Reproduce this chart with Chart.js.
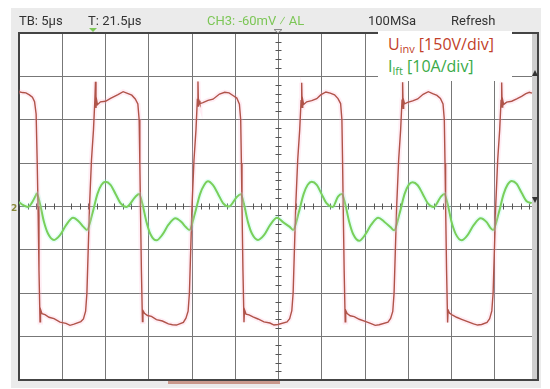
<!DOCTYPE html>
<html>
<head>
<meta charset="utf-8">
<script src="https://cdn.jsdelivr.net/npm/chart.js@4.4.1/dist/chart.umd.min.js"></script>
<style>
  body { margin: 0; background: #fff; }
  #wrap { position: relative; width: 550px; height: 389px; }
  .hdr { position: absolute; top: 13px; font: 13px Roboto, sans-serif; color: #333; white-space: nowrap; }
  #legend { position: absolute; left: 378px; top: 31px; width: 134px; height: 50px; background: #fff; font-family: "Open Sans", sans-serif; font-size: 16px; }
  #legend div { position: absolute; left: 10px; white-space: nowrap; }
  #legend sub { font-size: 11px; vertical-align: -3px; }
</style>
</head>
<body>
<div id="wrap">
  <canvas id="scope" width="550" height="389"></canvas>
  <div class="hdr" style="left:19px">TB: 5µs</div>
  <div class="hdr" style="left:88px">T: 21.5µs</div>
  <div class="hdr" style="left:207px;color:#7cc656">CH3: -60mV ⁄ AL</div>
  <div class="hdr" style="left:368px">100MSa</div>
  <div class="hdr" style="left:451px">Refresh</div>
  <div id="legend">
    <div style="top:2px;color:#c23f2a">U<sub>inv</sub> [150V/div]</div>
    <div style="top:24px;color:#3aaa48">I<sub>lft</sub> [10A/div]</div>
  </div>
</div>
<script>
// time axis: 5 us/div, 12 divisions
const timeTicks = [0, 5, 10, 15, 20, 25, 30, 35, 40, 45, 50, 55, 60];
// voltage axis 150 V/div, current axis 10 A/div, 8 divisions
const voltTicks = [-600, -450, -300, -150, 0, 150, 300, 450, 600];
const ampTicks = [-40, -30, -20, -10, 0, 10, 20, 30, 40];

// inverter voltage (red trace), us / V
const uTime = [
  0, 0.4, 0.8, 1.2, 1.55, 1.8, 1.98, 2.1, 2.2,
  2.31, 2.43, 2.49, 2.66, 3.01, 3.47, 4.05, 4.74, 5.43, 5.9, 6.36, 7.15, 7.45, 7.7, 7.85, 8.0, 8.15,
  8.38, 8.61, 8.77, 8.84, 8.9, 8.96, 9.07, 9.42, 10.0, 10.58, 11.44, 12.04, 12.54, 13.04, 13.44, 13.74, 13.89, 13.97, 14.04,
  14.15, 14.27, 14.33, 14.5, 14.85, 15.31, 15.89, 16.58, 17.27, 17.74, 18.2, 19.0, 19.3, 19.55, 19.7, 19.85, 20.0,
  20.23, 20.46, 20.62, 20.69, 20.75, 20.81, 20.92, 21.27, 21.85, 22.43, 23.18, 23.78, 24.28, 24.78, 25.18, 25.48, 25.63, 25.71, 25.78,
  25.89, 26.01, 26.07, 26.24, 26.59, 27.05, 27.63, 28.32, 29.01, 29.48, 29.94, 30.99, 31.29, 31.54, 31.69, 31.84, 31.99,
  32.22, 32.45, 32.61, 32.68, 32.74, 32.8, 32.91, 33.26, 33.84, 34.42, 34.88, 35.48, 35.98, 36.48, 36.88, 37.18, 37.33, 37.41, 37.48,
  37.59, 37.71, 37.77, 37.94, 38.29, 38.75, 39.33, 40.02, 40.71, 41.18, 41.64, 42.66, 42.96, 43.21, 43.36, 43.51, 43.66,
  43.89, 44.12, 44.28, 44.35, 44.41, 44.47, 44.58, 44.93, 45.51, 46.09, 46.72, 47.32, 47.82, 48.32, 48.72, 49.02, 49.17, 49.25, 49.32,
  49.43, 49.55, 49.61, 49.78, 50.13, 50.59, 51.17, 51.86, 52.55, 53.02, 53.48, 54.11, 54.41, 54.66, 54.81, 54.96, 55.11,
  55.34, 55.57, 55.73, 55.8, 55.86, 55.92, 56.03, 56.38, 56.96, 57.54, 58.1, 58.6, 59.0, 59.3
];
const uVolt = [
  397, 394, 393, 386, 378, 362, 320, 160, 0,
  -220, -399, -356, -371, -374, -383, -388, -400, -404, -411, -407, -398, -389, -362, -300, -150, 0,
  161, 265, 368, 431, 341, 370, 352, 362, 364, 374, 387, 397, 391, 385, 372, 355, 300, 150, 0,
  -220, -398, -360, -369, -377, -380, -391, -396, -406, -409, -410, -401, -386, -362, -300, -150, 0,
  161, 265, 370, 432, 345, 366, 356, 359, 367, 371, 389, 395, 393, 383, 375, 354, 300, 150, 0,
  -220, -400, -357, -372, -375, -382, -389, -399, -403, -410, -408, -399, -388, -360, -300, -150, 0,
  161, 265, 366, 428, 343, 369, 353, 362, 366, 373, 386, 396, 392, 386, 373, 356, 300, 150, 0,
  -220, -399, -359, -370, -378, -381, -390, -397, -405, -411, -409, -400, -387, -363, -300, -150, 0,
  161, 265, 368, 430, 340, 367, 355, 360, 365, 372, 388, 397, 390, 384, 374, 355, 300, 150, 0,
  -220, -401, -358, -369, -376, -383, -390, -398, -406, -410, -408, -401, -388, -361, -300, -150, 0,
  161, 265, 367, 429, 344, 368, 353, 361, 364, 372, 381, 390, 395, 392
];

// filter current (green trace), us / A
const iTime = [
  0, 0.5, 1.04, 1.5, 1.95, 2.05,
  2.43, 2.89, 3.36, 4.05, 4.74, 5.44, 6.25, 6.94, 7.46, 7.85,
  8.5, 9.07, 9.54, 10.0, 10.58, 11.16, 11.73, 12.43, 13.44, 13.89,
  14.27, 14.73, 15.2, 15.89, 16.58, 17.28, 18.09, 18.78, 19.31, 19.7,
  20.35, 20.92, 21.39, 21.85, 22.43, 23.01, 23.58, 24.28, 25.18, 25.63,
  26.01, 26.47, 26.94, 27.63, 28.32, 29.02, 29.83, 30.52, 31.3, 31.69,
  32.34, 32.91, 33.38, 33.84, 34.42, 35.0, 35.57, 36.27, 36.88, 37.33,
  37.71, 38.17, 38.64, 39.33, 40.02, 40.72, 41.53, 42.22, 42.97, 43.36,
  44.01, 44.58, 45.05, 45.51, 46.09, 46.67, 47.24, 47.94, 48.72, 49.17,
  49.55, 50.01, 50.48, 51.17, 51.86, 52.56, 53.37, 54.06, 54.42, 54.81,
  55.46, 56.03, 56.5, 56.96, 57.54, 58.12, 58.69, 59.27
];
const iAmp = [
  1.0, 0.3, -0.1, 0.9, 2.6, 3.0,
  0.6, -3.6, -6.3, -7.7, -6.6, -4.3, -2.6, -3.5, -4.7, -5.4,
  -1.5, 2.9, 5.0, 5.7, 5.0, 2.9, 0.8, -0.1, 2.2, 2.9,
  0.6, -3.5, -6.4, -7.8, -6.5, -4.2, -2.7, -3.6, -4.8, -5.4,
  -1.5, 2.8, 4.9, 5.8, 4.9, 2.9, 0.8, 0.0, 2.2, 2.8,
  0.5, -3.6, -6.3, -7.7, -6.6, -4.3, -2.6, -3.6, -4.7, -5.4,
  -1.4, 2.9, 5.0, 5.7, 5.0, 2.8, 0.7, -0.1, 2.3, 2.9,
  0.6, -3.5, -6.4, -7.9, -6.5, -4.2, -2.6, -3.5, -4.8, -5.5,
  -1.5, 2.9, 5.0, 5.6, 4.9, 2.9, 0.8, -0.1, 2.1, 2.9,
  0.6, -3.6, -6.3, -7.8, -6.6, -4.3, -2.7, -3.6, -4.7, -5.4,
  -1.5, 2.9, 5.1, 5.9, 5.2, 3.1, 1.2, 0.8
];

const uPoints = uTime.map((t, k) => ({ x: t, y: uVolt[k] }));
const iPoints = iTime.map((t, k) => ({ x: t, y: iAmp[k] }));

// scope furniture: gray panel, frame, center ticks, markers
const scopeFrame = {
  id: 'scopeFrame',
  beforeDraw(chart) {
    const c = chart.ctx, a = chart.chartArea;
    c.save();
    c.fillStyle = '#fff';
    c.fillRect(0, 0, chart.width, chart.height);
    c.fillStyle = '#ebebeb';
    c.fillRect(11, 8, 530, 380);
    c.fillStyle = '#fff';
    c.fillRect(a.left, a.top, a.right - a.left, a.bottom - a.top);
    c.restore();
  },
  beforeDatasetsDraw(chart) {
    const c = chart.ctx, a = chart.chartArea;
    const xs = chart.scales.x, ys = chart.scales.y;
    c.save();
    // scrollbar at right
    c.fillStyle = '#cfcfcf';
    c.fillRect(a.right - 6, a.top, 6, a.bottom - a.top);
    // minor ticks on center lines
    c.strokeStyle = '#555';
    c.lineWidth = 1;
    const cx = xs.getPixelForValue(30), cy = ys.getPixelForValue(0);
    c.beginPath();
    for (let t = 1; t < 60; t++) {
      if (t % 5 === 0) continue;
      const px = Math.round(xs.getPixelForValue(t)) + 0.5;
      c.moveTo(px, cy - 3); c.lineTo(px, cy + 3);
    }
    for (let v = -570; v < 600; v += 30) {
      if (v % 150 === 0) continue;
      const py = Math.round(ys.getPixelForValue(v)) + 0.5;
      c.moveTo(cx - 3, py); c.lineTo(cx + 3, py);
    }
    c.stroke();
    // frame
    c.strokeStyle = '#444';
    c.lineWidth = 2;
    c.strokeRect(a.left, a.top, a.right - a.left, a.bottom - a.top);
    // bottom position bar
    c.fillStyle = '#c9998c';
    c.fillRect(168, a.bottom + 1, 112, 3);
    // markers
    c.fillStyle = '#7cc656';
    c.beginPath(); c.moveTo(89, 28); c.lineTo(97, 28); c.lineTo(93, 32); c.fill();
    c.strokeStyle = '#888'; c.lineWidth = 1;
    c.beginPath(); c.moveTo(274, 29.5); c.lineTo(282, 29.5); c.lineTo(278, 33); c.closePath(); c.stroke();
    c.fillStyle = '#333';
    c.beginPath(); c.moveTo(532, 76); c.lineTo(538, 76); c.lineTo(535, 70); c.fill();
    c.beginPath(); c.moveTo(532, 197); c.lineTo(538, 197); c.lineTo(535, 203); c.fill();
    c.fillStyle = '#8a8a3a';
    c.font = 'bold 9px "DejaVu Sans"';
    c.fillText('2', 11, 211);
    c.restore();
  }
};

new Chart(document.getElementById('scope'), {
  type: 'line',
  data: {
    datasets: [
      { label: 'Uinv glow', data: uPoints, yAxisID: 'y', borderColor: 'rgba(255,175,205,0.22)', borderWidth: 5, pointRadius: 0, tension: 0 },
      { label: 'Ilft glow', data: iPoints, yAxisID: 'y1', borderColor: 'rgba(150,250,225,0.25)', borderWidth: 5, pointRadius: 0, cubicInterpolationMode: 'monotone' },
      { label: 'Uinv', data: uPoints, yAxisID: 'y', borderColor: '#9a3a24', borderWidth: 1.4, pointRadius: 0, tension: 0 },
      { label: 'Ilft', data: iPoints, yAxisID: 'y1', borderColor: '#70c02e', borderWidth: 2, pointRadius: 0, cubicInterpolationMode: 'monotone' }
    ]
  },
  options: {
    responsive: false,
    animation: false,
    devicePixelRatio: 1,
    layout: { padding: { left: 19, top: 33, right: 12, bottom: 9 } },
    plugins: { legend: { display: false }, tooltip: { enabled: false } },
    scales: {
      x: {
        type: 'linear', min: 0, max: 60,
        afterBuildTicks: s => { s.ticks = timeTicks.map(v => ({ value: v })); },
        ticks: { display: false },
        grid: { color: '#777', lineWidth: 1, drawTicks: false },
        border: { display: false }
      },
      y: {
        min: -600, max: 600,
        afterBuildTicks: s => { s.ticks = voltTicks.map(v => ({ value: v })); },
        ticks: { display: false },
        grid: { color: '#777', lineWidth: 1, drawTicks: false },
        border: { display: false }
      },
      y1: {
        min: -40, max: 40, display: false,
        afterBuildTicks: s => { s.ticks = ampTicks.map(v => ({ value: v })); }
      }
    }
  },
  plugins: [scopeFrame]
});
</script>
</body>
</html>
